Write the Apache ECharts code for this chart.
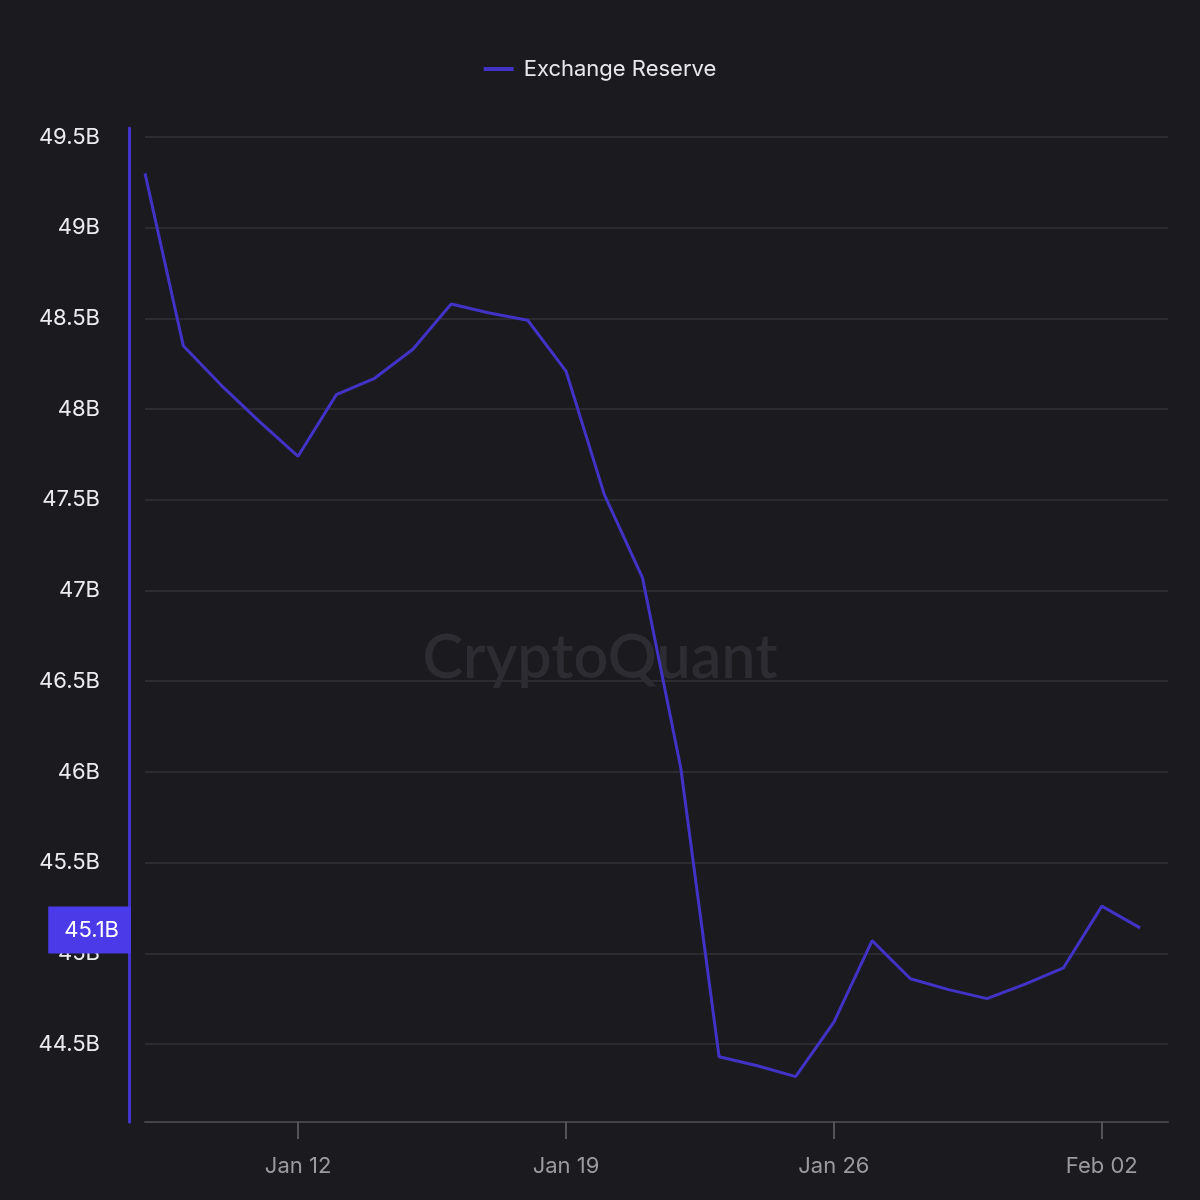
<!DOCTYPE html>
<html>
<head>
<meta charset="utf-8">
<script src="https://cdn.jsdelivr.net/npm/echarts@6/dist/echarts.min.js"></script>
<style>
  html, body { margin: 0; padding: 0; background: #1b1a1f; }
  #chart { width: 1200px; height: 1200px; }
</style>
</head>
<body>
<div id="chart"></div>
<script>
// ---- data ----
const dates = [
  '2025-01-08','2025-01-09','2025-01-10','2025-01-11','2025-01-12','2025-01-13','2025-01-14',
  '2025-01-15','2025-01-16','2025-01-17','2025-01-18','2025-01-19','2025-01-20','2025-01-21',
  '2025-01-22','2025-01-23','2025-01-24','2025-01-25','2025-01-26','2025-01-27','2025-01-28',
  '2025-01-29','2025-01-30','2025-01-31','2025-02-01','2025-02-02','2025-02-03'
];
const reserveB = [
  49.30, 48.35, 48.13, 47.93, 47.74, 48.08, 48.17,
  48.33, 48.58, 48.53, 48.49, 48.21, 47.53, 47.07,
  46.02, 44.43, 44.38, 44.32, 44.62, 45.07, 44.86,
  44.80, 44.75, 44.83, 44.92, 45.26, 45.14
];
const xTickDates = ['2025-01-12', '2025-01-19', '2025-01-26', '2025-02-02'];
const xTickLabels = ['Jan 12', 'Jan 19', 'Jan 26', 'Feb 02'];
const yTickValues = [44.5, 45, 45.5, 46, 46.5, 47, 47.5, 48, 48.5, 49, 49.5];
const seriesName = 'Exchange Reserve';

// ---- helpers ----
function ts(s) { const p = s.split('-').map(Number); return Date.UTC(p[0], p[1] - 1, p[2]); }
const DAY = 86400000;
const seriesData = dates.map((d, i) => [ts(d), reserveB[i]]);
const xTicks = xTickDates.map(ts);
const lastValue = reserveB[reserveB.length - 1];

const lineColor = '#4232c6';
const gridLeft = 145;
const yOffset = 16;
const chart = echarts.init(document.getElementById('chart'), null, { renderer: 'canvas' });
chart.setOption({
  backgroundColor: '#1b1a1f',
  animation: false,
  textStyle: { fontFamily: 'Inter, "Noto Sans", sans-serif' },
  legend: {
    top: 53,
    left: 'center',
    icon: 'rect',
    itemWidth: 30,
    itemHeight: 4,
    textStyle: { color: '#e8e8ea', fontSize: 22, padding: [0, 0, 0, 5] },
    data: [{ name: seriesName, itemStyle: { color: lineColor } }]
  },
  graphic: [{
    id: 'watermark',
    type: 'text',
    left: 'center',
    top: 628,
    z: 0,
    silent: true,
    style: {
      text: 'CryptoQuant',
      fontSize: 61,
      fontWeight: 600,
      fontFamily: 'Lato, "Noto Sans", sans-serif',
      fill: '#2d2c32'
    }
  }],
  grid: { left: gridLeft, right: 32, top: 128, bottom: 78 },
  xAxis: {
    type: 'value',
    min: ts(dates[0]),
    max: ts(dates[0]) + 26.73 * DAY,
    axisLine: { show: true, lineStyle: { color: '#45444b', width: 2 } },
    axisTick: { show: true, length: 17, lineStyle: { color: '#55545b', width: 2 }, customValues: xTicks },
    axisLabel: {
      color: '#9b9aa1',
      fontSize: 22,
      margin: 33,
      customValues: xTicks,
      formatter: function (v) {
        const i = xTicks.indexOf(v);
        return i >= 0 ? xTickLabels[i] : '';
      }
    },
    splitLine: { show: false }
  },
  yAxis: {
    type: 'value',
    min: 44.07,
    max: 49.55,
    offset: yOffset,
    axisLine: { show: true, lineStyle: { color: '#4433cc', width: 3 } },
    axisTick: { show: false, customValues: yTickValues },
    axisLabel: {
      color: '#ececee',
      fontSize: 22,
      margin: 29,
      customValues: yTickValues,
      formatter: function (v) { return (+v.toFixed(1)) + 'B'; }
    },
    splitLine: { show: true, lineStyle: { color: '#2c2b31', width: 2 } }
  },
  series: [{
    name: seriesName,
    type: 'line',
    data: seriesData,
    showSymbol: false,
    symbol: 'none',
    lineStyle: { color: lineColor, width: 3 },
    itemStyle: { color: lineColor },
    emphasis: { disabled: true },
    z: 3
  }]
});

// last-value badge on the y axis, positioned through the axis scale
const yPix = chart.convertToPixel({ yAxisIndex: 0 }, lastValue);
chart.setOption({
  graphic: [{
    id: 'lastValueBadge',
    type: 'text',
    x: gridLeft - yOffset + 2,
    y: yPix + 2,
    z: 10,
    silent: true,
    style: {
      text: lastValue.toFixed(1) + 'B',
      align: 'right',
      verticalAlign: 'middle',
      fontSize: 22,
      fontFamily: 'Inter, "Noto Sans", sans-serif',
      fill: '#ffffff',
      backgroundColor: '#4b3ae8',
      padding: [12, 12, 13, 16]
    }
  }]
});
</script>
</body>
</html>
